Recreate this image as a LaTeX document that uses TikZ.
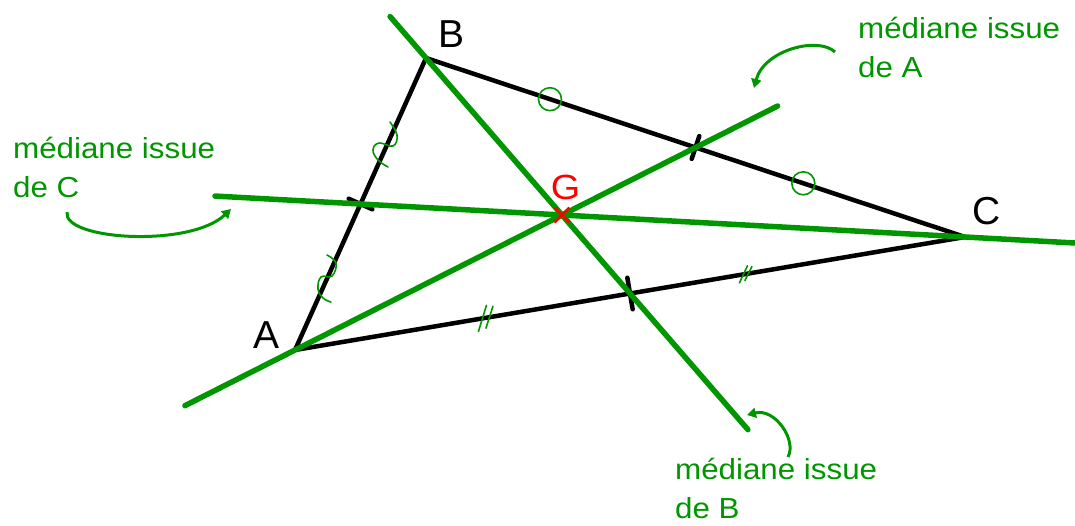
\documentclass[tikz,border=0pt]{standalone}
\usepackage{fontspec}
\setmainfont{Liberation Sans}
\newfontfamily\lblfont[FakeStretch=1.08]{Liberation Sans}
\usetikzlibrary{calc,arrows.meta}
\definecolor{geo}{RGB}{0,150,0}
\definecolor{gred}{RGB}{255,0,0}
\begin{document}
\begin{tikzpicture}[x=1pt,y=-1pt,
  side/.style={black,line width=4.5pt,line join=round,line cap=round},
  median/.style={geo,line width=5.5pt,line cap=round},
  midtick/.style={black,line width=4.5pt,line cap=round},
  markline/.style={geo,line width=1.6pt,line cap=round},
  lbl/.style={geo,font=\lblfont\fontsize{29}{39}\selectfont,align=left,inner sep=0pt},
  vlbl/.style={font=\fontsize{39}{39}\selectfont,inner sep=0pt},
  callout/.style={geo,line width=3pt,-{Triangle[length=9pt,width=10pt]}}]
\useasboundingbox (0,0) rectangle (1075,525);
% vertices
\coordinate (A) at (295,350);
\coordinate (B) at (426,58);
\coordinate (C) at (965,237);
\coordinate (mAB) at ($(A)!0.5!(B)$);
\coordinate (mBC) at ($(B)!0.5!(C)$);
\coordinate (mAC) at ($(A)!0.5!(C)$);
\coordinate (G) at ($(A)!2/3!(mBC)$);
% median ends
\coordinate (a1) at ($(A)!-0.275!(mBC)$);
\coordinate (a2) at ($(A)!1.205!(mBC)$);
\coordinate (b1) at ($(B)!-0.176!(mAC)$);
\coordinate (b2) at ($(B)!1.578!(mAC)$);
\coordinate (c1) at ($(C)!1.2407!(mAB)$);
\coordinate (c2) at ($(C)!-0.182!(mAB)$);
% triangle
\draw[side] (A) -- (B) -- (C) -- cycle;
% midpoint ticks
\draw[midtick] ($(mAB)!13pt!90:(B)$) -- ($(mAB)!13pt!-90:(B)$);
\draw[midtick] ($(mBC)!12pt!90:(C)$) -- ($(mBC)!12pt!-90:(C)$);
\draw[midtick] ($(mAC)!16pt!90:(C)$) -- ($(mAC)!16pt!-90:(C)$);
% equal-length marks on BC
\draw[markline] ($(B)!0.23!(C)$) circle[radius=11.5];
\draw[markline] ($(B)!0.70!(C)$) circle[radius=11.5];
% equal-length marks on AC
\coordinate (p1) at ($(A)!0.285!(C)$);
\draw[markline] ($(p1)+(-3.5,0.6)+(-4,13)$) -- ($(p1)+(-3.5,0.6)+(4,-13)$);
\draw[markline] ($(p1)+(3.5,-0.6)+(-3.5,11)$) -- ($(p1)+(3.5,-0.6)+(3.5,-11)$);
\coordinate (p2) at ($(A)!0.673!(C)$);
\draw[markline] ($(p2)+(-2.5,0.4)+(-4,8.5)$) -- ($(p2)+(-2.5,0.4)+(4,-8.5)$);
\draw[markline] ($(p2)+(2.5,-0.4)+(-3.5,7)$) -- ($(p2)+(2.5,-0.4)+(3.5,-7)$);
% equal-length marks on AB
\draw[markline] plot[smooth,tension=0.7] coordinates {(390,122) (397,135) (393,146) (379,143) (373,150) (378,160) (388,167)};
\draw[markline] plot[smooth,tension=0.7] coordinates {(327,255) (336,263) (332,276) (321,277) (318,289) (323,298) (331,302)};
% medians
\draw[median] (a1) -- (a2);
\draw[median] (b1) -- (b2);
\draw[median] (c1) -- (c2);
% centroid
\draw[gred,line width=2.6pt] ($(G)+(-7.5,-7.5)$) -- ($(G)+(7.5,7.5)$);
\draw[gred,line width=2.6pt] ($(G)+(-7.5,7.5)$) -- ($(G)+(7.5,-7.5)$);
\node[vlbl,gred,font=\lblfont\fontsize{35}{35}\selectfont,anchor=base] (Glbl) at (565.5,199) {G};
% vertex labels
\node[vlbl,anchor=base] (Albl) at (266.5,348) {A};
\node[vlbl,anchor=base] (Blbl) at (451.5,47) {B};
\node[vlbl,anchor=base] (Clbl) at (986.5,224) {C};
% median labels (anchor at baseline of the last line)
\node[lbl,anchor=base west] (labA) at (858,77) {médiane issue\\de A};
\node[lbl,anchor=base west] (labC) at (13,197) {médiane issue\\de C};
\node[lbl,anchor=base west] (labB) at (675,518) {médiane issue\\de B};
% callouts
\coordinate (sA) at (835,52);
\coordinate (tA) at (754,88);
\coordinate (sC) at (67,212);
\coordinate (tC) at (231,209);
\coordinate (sB) at (788,457);
\coordinate (tB) at (747,415);
\draw[callout] (sA) .. controls (818,36) and (764,50) .. (tA);
\draw[callout] (sC) .. controls (62,240) and (190,248) .. (tC);
\draw[callout] (sB) .. controls (797,440) and (775,408) .. (tB);
\end{tikzpicture}
\end{document}
